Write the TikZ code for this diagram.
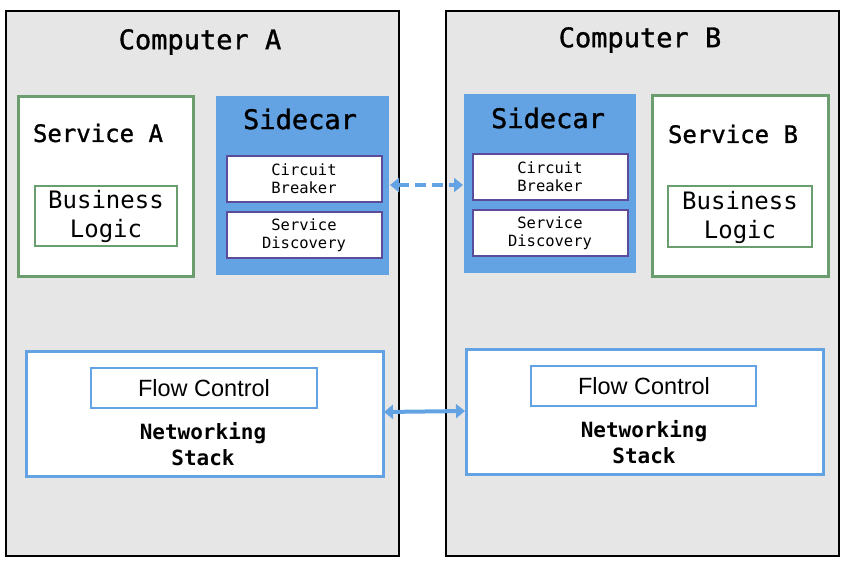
\documentclass[tikz,border=0pt]{standalone}
\usepackage{fontspec}
\setmainfont{Liberation Sans}
\newfontfamily\monof{DejaVu Sans Mono}
\newfontfamily\monofb[FakeBold=1.2]{DejaVu Sans Mono}
\usetikzlibrary{arrows.meta}
\definecolor{bggray}{HTML}{E6E6E6}
\definecolor{svgreen}{HTML}{6A9E6E}
\definecolor{scblue}{HTML}{64A3E3}
\definecolor{cbpurple}{HTML}{5B4B9B}
\tikzset{
  x=1pt,y=-1pt,
  computer/.style={draw=black,line width=2pt,fill=bggray},
  servicebox/.style={draw=svgreen,line width=3pt,fill=white},
  logicbox/.style={draw=svgreen,line width=2pt,fill=white},
  sidecarbox/.style={fill=scblue},
  innerbox/.style={draw=cbpurple,line width=2.5pt,fill=white},
  netbox/.style={draw=scblue,line width=3pt,fill=white},
  flowbox/.style={draw=scblue,line width=2pt,fill=white},
  ttl/.style={font=\monofb\fontsize{27}{30}\selectfont},
  sttl/.style={font=\monofb\fontsize{24}{29}\selectfont},
  sml/.style={font=\monof\fontsize{15.5}{18}\selectfont,align=center},
  mid/.style={font=\monof\fontsize{24}{29}\selectfont,align=center},
  netlbl/.style={font=\monof\bfseries\fontsize{21}{26}\selectfont,align=center},
  flowlbl/.style={font=\fontsize{23.5}{26}\selectfont},
  link/.style={scblue,line width=4pt,{Triangle[length=9pt,width=14pt]}-{Triangle[length=9pt,width=14pt]}}
}
\begin{document}
\begin{tikzpicture}
\useasboundingbox (0,0) rectangle (844,568);
\fill[white] (0,0) rectangle (844,568);
% computers
\draw[computer] (6,11) rectangle (399,556);
\draw[computer] (446,11) rectangle (839,556);
\node[ttl] (ta) at (200,42) {Computer A};
\node[ttl] (tb) at (640,40) {Computer B};
% service A
\draw[servicebox] (18,96) rectangle (193,276);
\node[sttl] (sa) at (98,133) {Service A};
\draw[logicbox] (35,186) rectangle (177,246);
\node[mid] (bla) at (106,216) {Business\\Logic};
% sidecar A
\fill[sidecarbox] (216,96) rectangle (389,275);
\node[ttl] (sca) at (300,119) {Sidecar};
\draw[innerbox] (227,156) rectangle (382,202);
\node[sml] (cba) at (304,179) {Circuit\\Breaker};
\draw[innerbox] (227,212) rectangle (382,258);
\node[sml] (sda) at (304,235) {Service\\Discovery};
\coordinate (ra) at (390,185);
% sidecar B
\fill[sidecarbox] (464,94) rectangle (636,273);
\node[ttl] (scb) at (548,118) {Sidecar};
\draw[innerbox] (473,154) rectangle (628,200);
\node[sml] (cbb) at (550,177) {Circuit\\Breaker};
\draw[innerbox] (473,210) rectangle (628,256);
\node[sml] (sdb) at (550,233) {Service\\Discovery};
\coordinate (lb) at (463,185);
% service B
\draw[servicebox] (652,95) rectangle (828,276);
\node[sttl] (sb) at (733,134) {Service B};
\draw[logicbox] (668,186) rectangle (812,247);
\node[mid] (blb) at (740,217) {Business\\Logic};
% networking A
\draw[netbox] (26,351) rectangle (383,476);
\draw[flowbox] (91,368) rectangle (317,408);
\node[flowlbl] (fca) at (204,388) {Flow Control};
\node[netlbl] (nsa) at (203,444) {Networking\\Stack};
\coordinate (na) at (384,412);
% networking B
\draw[netbox] (466,349) rectangle (823,474);
\draw[flowbox] (531,366) rectangle (756,406);
\node[flowlbl] (fcb) at (644,386) {Flow Control};
\node[netlbl] (nsb) at (644,442) {Networking\\Stack};
\coordinate (nb) at (465,411);
% links
\draw[link,dash pattern=on 11pt off 6pt] (ra) -- (lb);
\draw[link] (na) -- (nb);
\end{tikzpicture}
\end{document}
